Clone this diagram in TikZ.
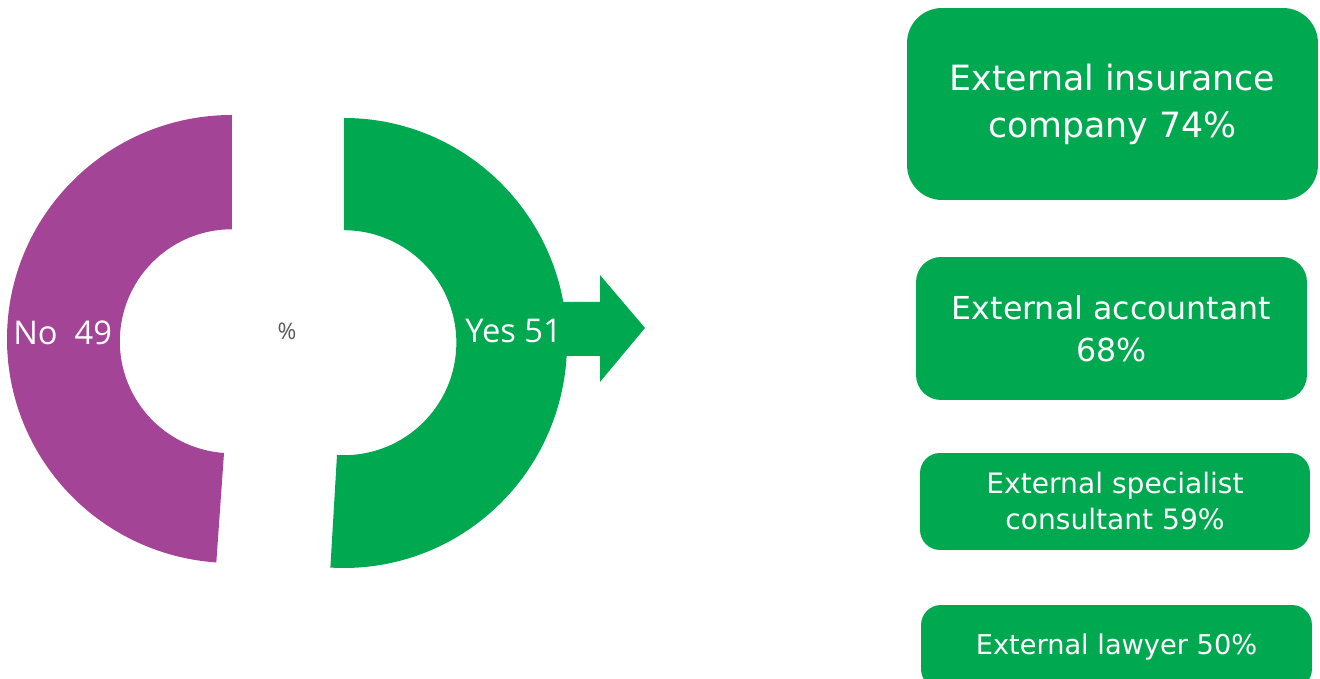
\documentclass[tikz,border=0pt]{standalone}
\usepackage{fontspec}
\setmainfont{DejaVu Sans}
\newfontfamily\ringfont{Open Sans}
\usepackage{tikz}
\definecolor{ringgreen}{RGB}{0,168,80}
\definecolor{ringpurple}{RGB}{164,68,150}
\definecolor{pctgray}{RGB}{89,89,89}
\tikzset{
  helpbox/.style={fill=ringgreen, text=white, align=center, inner sep=0pt},
  ringlabel/.style={text=white, font=\ringfont\fontsize{18.6}{22}\selectfont, inner sep=0pt}
}
\begin{document}
\begin{tikzpicture}[x=0.02cm, y=0.02cm]
			%%%%% START %%%%%
			\clip (0, 0) rectangle (1320, 679);
			
			% ring: no / yes
			\fill[ringpurple] (232, 564) arc[start angle=90, end angle=266, x radius=225, y radius=224]
			  -- (224, 226) arc[start angle=266, end angle=90, radius=112] -- cycle;
			\fill[ringgreen] (344, 561) arc[start angle=90, end angle=-93.5, x radius=223, y radius=225]
			  -- (337, 224) arc[start angle=-93.5, end angle=90, radius=112.5] -- cycle;
			
			% arrow
			\fill[ringgreen] (555, 377) -- (600, 377) -- (600, 404) -- (645, 351)
			  -- (600, 297) -- (600, 323) -- (555, 323) -- cycle;
			
			\node[ringlabel, anchor=base west] (no) at (13, 334) {No\ \ 49};
			\node[ringlabel, anchor=base west] (yes) at (465, 336) {Yes 51};
			\node[text=pctgray, font=\ringfont\fontsize{13}{15}\selectfont] (pct) at (287, 348) {\%};
			
			% boxes
			\node[helpbox, rounded corners=0.7cm, minimum width=8.22cm, minimum height=3.84cm,
			  font=\fontsize{19.8}{26.7}\selectfont] (insurer) at (1112.5, 575) {External insurance\\company 74\%};
			\node[helpbox, rounded corners=0.5cm, minimum width=7.82cm, minimum height=2.86cm,
			  font=\fontsize{18}{24}\selectfont] (accountant) at (1111.5, 350.5) {External accountant\\68\%};
			\node[helpbox, rounded corners=0.4cm, minimum width=7.8cm, minimum height=1.94cm,
			  font=\fontsize{16}{20.5}\selectfont] (consultant) at (1115, 177.5) {External specialist\\consultant 59\%};
			\node[helpbox, rounded corners=0.4cm, minimum width=7.82cm, minimum height=1.68cm,
			  font=\fontsize{15.5}{19}\selectfont] (lawyer) at (1116.5, 32) {External lawyer 50\%};
			
			%%%%% END %%%%%
\end{tikzpicture}
\end{document}
